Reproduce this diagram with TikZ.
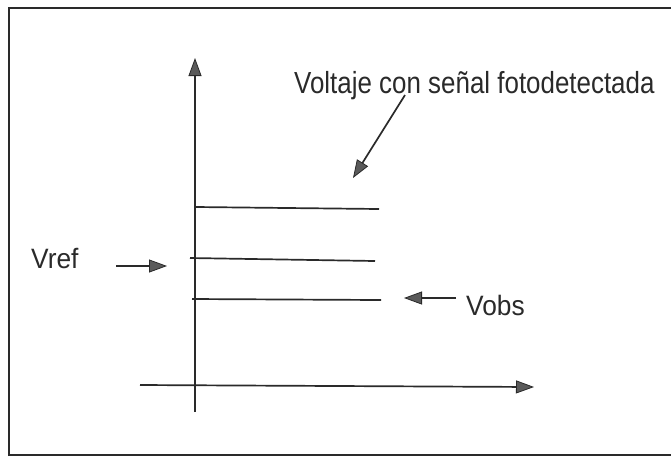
\documentclass[tikz,border=0pt]{standalone}
\usepackage{fontspec}
\setmainfont{Liberation Sans}
\usetikzlibrary{arrows.meta}
\definecolor{ink}{HTML}{2A2A2A}
\definecolor{tipfill}{HTML}{5A5A5A}
\begin{document}
\begin{tikzpicture}[x=1pt,y=-1pt,
  line/.style={draw=ink,line width=1.7pt},
  arr/.style={line,-{Triangle[length=18pt,width=13pt,fill=tipfill,line width=0.8pt]}},
  lbl/.style={inner sep=0pt,anchor=base west,text=ink,font=\fontsize{28}{30}\selectfont}]
\useasboundingbox (0,0) rectangle (671,459);
\draw[draw=ink,line width=1.4pt] (9,456) -- (9,8) -- (680,8);
\draw[draw=ink,line width=1.4pt] (9,455) -- (680,455);
% axes
\coordinate (yb) at (195,412);
\coordinate (yt) at (195,58);
\coordinate (xl) at (140,385);
\coordinate (xr) at (534,387);
\draw[arr] (yb) -- (yt);
\draw[arr] (xl) -- (xr);
% levels
\coordinate (l1a) at (196,207); \coordinate (l1b) at (379,209);
\coordinate (l2a) at (190,258); \coordinate (l2b) at (375,261);
\coordinate (l3a) at (192,299); \coordinate (l3b) at (381,300);
\draw[line] (l1a) -- (l1b);
\draw[line] (l2a) -- (l2b);
\draw[line] (l3a) -- (l3b);
% labels
\node[lbl,font=\fontsize{30.5}{32}\selectfont] (title) at (294,93) {\scalebox{0.85}[1]{Voltaje con señal fotodetectada}};
\node[lbl] (vref) at (31,268) {\scalebox{0.94}[1]{Vref}};
\node[lbl] (vobs) at (466,315) {\scalebox{0.94}[1]{Vobs}};
% pointers
\coordinate (ts) at (405,95);
\coordinate (te) at (353,178);
\draw[arr] (ts) -- (te);
\coordinate (rs) at (116,266);
\coordinate (re) at (167,266);
\draw[arr] (rs) -- (re);
\coordinate (os) at (456,298);
\coordinate (oe) at (404,298);
\draw[arr] (os) -- (oe);
\end{tikzpicture}
\end{document}
